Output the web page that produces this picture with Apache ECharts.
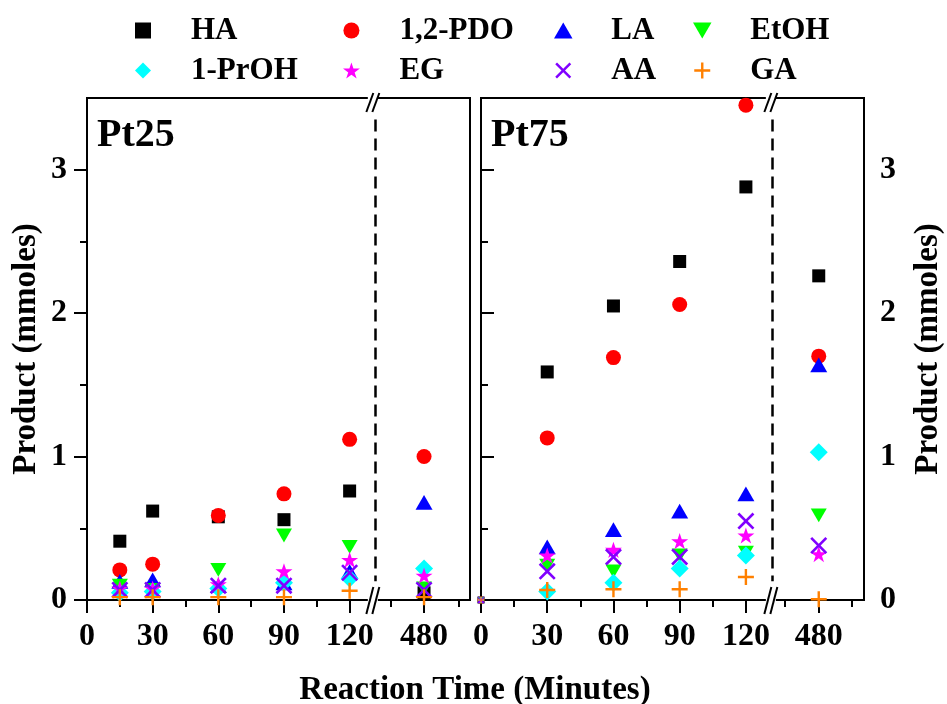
<!DOCTYPE html>
<html>
<head>
<meta charset="utf-8">
<script src="https://cdn.jsdelivr.net/npm/echarts@6/dist/echarts.min.js"></script>
<style>
  html, body { margin: 0; padding: 0; background: #fff; }
  #chart { width: 947px; height: 704px; }
</style>
</head>
<body>
<div id="chart"></div>
<script>
// Product names (legend order)
const productNames = ['HA', '1,2-PDO', 'LA', 'EtOH', '1-PrOH', 'EG', 'AA', 'GA'];

// Sampling times (minutes)
const pt25Times = [15, 30, 60, 90, 120, 480];
const pt75Times = [0, 30, 60, 90, 120, 480];

// Pt25 catalyst, product amounts (mmoles)
const pt25HA   = [0.41, 0.62, 0.58, 0.56, 0.76, 0.05];
const pt25PDO  = [0.21, 0.25, 0.59, 0.74, 1.12, 1.00];
const pt25LA   = [0.13, 0.14, 0.10, 0.12, 0.20, 0.68];
const pt25EtOH = [0.10, 0.07, 0.21, 0.45, 0.37, 0.08];
const pt25PrOH = [0.05, 0.06, 0.08, 0.12, 0.15, 0.22];
const pt25EG   = [0.08, 0.08, 0.11, 0.20, 0.28, 0.17];
const pt25AA   = [0.07, 0.07, 0.10, 0.10, 0.19, 0.07];
const pt25GA   = [0.02, 0.02, 0.02, 0.02, 0.065, 0.02];

// Pt75 catalyst, product amounts (mmoles)
const pt75HA   = [0, 1.59, 2.05, 2.36, 2.88, 2.26];
const pt75PDO  = [0, 1.13, 1.69, 2.06, 3.45, 1.70];
const pt75LA   = [0, 0.37, 0.49, 0.62, 0.74, 1.64];
const pt75EtOH = [0, 0.24, 0.20, 0.31, 0.33, 0.59];
const pt75PrOH = [0, 0.06, 0.12, 0.22, 0.31, 1.03];
const pt75EG   = [0, 0.31, 0.35, 0.41, 0.45, 0.32];
const pt75AA   = [0, 0.20, 0.30, 0.30, 0.55, 0.38];
const pt75GA   = [0, 0.07, 0.075, 0.075, 0.16, 0.005];

// Tick labels
const xTickLabels = ['0', '30', '60', '90', '120', '480'];
const yTickValues = [0, 1, 2, 3];
const yMinorTicks = [0.5, 1.5, 2.5];

// Broken time axis: 0-120 min is linear, the 480 min point sits past the break
const panels = [
  { title: 'Pt25', times: pt25Times,
    values: [pt25HA, pt25PDO, pt25LA, pt25EtOH, pt25PrOH, pt25EG, pt25AA, pt25GA],
    axisMax: 175, latePos: 154, lateMinor: [139, 170], breakPos: 130.6, dashPos: 131.5 },
  { title: 'Pt75', times: pt75Times,
    values: [pt75HA, pt75PDO, pt75LA, pt75EtOH, pt75PrOH, pt75EG, pt75AA, pt75GA],
    axisMax: 173.5, latePos: 153, lateMinor: [137.5, 168], breakPos: 131.3, dashPos: 132 }
];

const FONT = "'Liberation Serif', 'Times New Roman', serif";
const BLACK = '#000';

const symbols = [
  { symbol: 'path://M0,0H10V10H0Z', size: 13, color: '#000000' },
  { symbol: 'circle', size: 15, color: '#ff0000' },
  { symbol: 'path://M10,0L20,17.3L0,17.3Z', size: 17, color: '#0000ff' },
  { symbol: 'path://M0,0L20,0L10,17.3Z', size: 16, color: '#00ff00' },
  { symbol: 'path://M10,0L20,10L10,20L0,10Z', size: 18, color: '#00ffff' },
  { symbol: 'path://M10,0L12.4,7.2L20,7.2L13.8,11.8L16.2,19L10,14.5L3.8,19L6.2,11.8L0,7.2L7.6,7.2Z', size: 17, color: '#ff00ff' },
  { symbol: 'path://M0,2.2L2.2,0L10,7.8L17.8,0L20,2.2L12.2,10L20,17.8L17.8,20L10,12.2L2.2,20L0,17.8L7.8,10Z', size: 17, color: '#8000ff' },
  { symbol: 'path://M8.5,0H11.5V8.5H20V11.5H11.5V20H8.5V11.5H0V8.5H8.5Z', size: 16, color: '#ff8000' }
];

function axisPos(t, panel) {
  return t > 120 ? panel.latePos : t;
}

const grids = [
  { left: 87, top: 98, width: 383, height: 502 },
  { left: 481, top: 98, width: 383, height: 502 }
].map(g => Object.assign(g, { show: true, borderColor: BLACK, borderWidth: 2, backgroundColor: 'transparent' }));

const labelStyle = { color: BLACK, fontFamily: FONT, fontWeight: 'bold', fontSize: 32 };

const xAxes = [];
const yAxes = [];
panels.forEach((p, gi) => {
  const majors = [0, 30, 60, 90, 120, p.latePos];
  // main time axis
  xAxes.push({
    type: 'value', gridIndex: gi, min: 0, max: p.axisMax, position: 'bottom',
    axisLine: { show: true, lineStyle: { color: BLACK, width: 2 } },
    axisTick: { show: true, customValues: majors, length: 13, lineStyle: { color: BLACK, width: 2 } },
    axisLabel: {
      show: true, customValues: majors, margin: 21, ...labelStyle,
      formatter: v => xTickLabels[majors.indexOf(v)]
    },
    splitLine: { show: false }
  });
  // minor ticks of the time axis
  xAxes.push({
    type: 'value', gridIndex: gi, min: 0, max: p.axisMax, position: 'bottom',
    axisLine: { show: false },
    axisTick: { show: true, customValues: [15, 45, 75, 105].concat(p.lateMinor), length: 7, lineStyle: { color: BLACK, width: 2 } },
    axisLabel: { show: false },
    splitLine: { show: false }
  });
  const side = gi === 0 ? 'left' : 'right';
  yAxes.push({
    type: 'value', gridIndex: gi, min: 0, max: 3.5, position: side,
    name: 'Product (mmoles)', nameLocation: 'middle', nameRotate: 90,
    nameGap: gi === 0 ? 44 : 48,
    nameTextStyle: { ...labelStyle, fontSize: 33 },
    axisLine: { show: true, lineStyle: { color: BLACK, width: 2 } },
    axisTick: { show: true, customValues: yTickValues, length: 13, lineStyle: { color: BLACK, width: 2 } },
    axisLabel: { show: true, customValues: yTickValues, margin: gi === 0 ? 20 : 16, ...labelStyle },
    splitLine: { show: false }
  });
  yAxes.push({
    type: 'value', gridIndex: gi, min: 0, max: 3.5, position: side,
    axisLine: { show: false },
    axisTick: { show: true, customValues: yMinorTicks, length: 7, lineStyle: { color: BLACK, width: 2 } },
    axisLabel: { show: false },
    splitLine: { show: false }
  });
});

const series = [];
panels.forEach((p, gi) => {
  productNames.forEach((name, i) => {
    const s = {
      type: 'scatter', name,
      xAxisIndex: gi * 2, yAxisIndex: gi * 2,
      data: p.times.map((t, j) => [axisPos(t, p), p.values[i][j]]),
      symbol: symbols[i].symbol,
      symbolSize: v => (v[0] === 0 ? 7 : symbols[i].size),
      symbolKeepAspect: true,
      itemStyle: { color: symbols[i].color, opacity: 1 },
      emphasis: { disabled: true },
      z: 2 + i
    };
    if (i === 0) {
      s.markLine = {
        silent: true, symbol: ['none', 'none'], label: { show: false },
        lineStyle: { color: BLACK, width: 2.5, type: [12, 7] },
        data: [[{ coord: [p.dashPos, 3.35] }, { coord: [p.dashPos, 0.13] }]]
      };
    }
    series.push(s);
  });
});

// legend: four columns of two entries
const legendColumns = [
  { left: 135, data: ['HA', '1-PrOH'] },
  { left: 343, data: ['1,2-PDO', 'EG'] },
  { left: 554, data: ['LA', 'AA'] },
  { left: 693, data: ['EtOH', 'GA'] }
];
const legends = legendColumns.map(c => ({
  orient: 'vertical', left: c.left, top: 15, padding: 0,
  itemWidth: 86, itemHeight: 16, itemGap: 9,
  data: c.data, selectedMode: false,
  textStyle: { ...labelStyle, fontSize: 31 }
}));

const chart = echarts.init(document.getElementById('chart'), null, { renderer: 'canvas' });
chart.setOption({
  animation: false,
  backgroundColor: '#fff',
  grid: grids,
  xAxis: xAxes,
  yAxis: yAxes,
  legend: legends,
  series
});

// panel titles, shared axis title and break marks
const graphics = [];
panels.forEach((p, gi) => {
  const opt = { xAxisIndex: gi * 2, yAxisIndex: gi * 2 };
  const topLeft = chart.convertToPixel(opt, [0, 3.5]);
  graphics.push({
    type: 'text', z: 100, left: topLeft[0] + 10, top: topLeft[1] + 18,
    style: { text: p.title, fill: BLACK, font: 'bold 40px ' + FONT }
  });
  [0, 3.5].forEach(yv => {
    const pt = chart.convertToPixel(opt, [p.breakPos, yv]);
    const bottom = yv === 0;
    const up = bottom ? 13 : 5;
    const down = 14;
    graphics.push({
      type: 'rect', z: 100, silent: true,
      shape: { x: pt[0] - 5, y: pt[1] - 2, width: 10, height: 4 },
      style: { fill: '#fff' }
    });
    [-3, 3].forEach(dx => {
      graphics.push({
        type: 'line', z: 101, silent: true,
        shape: { x1: pt[0] + dx - 3.5, y1: pt[1] + down, x2: pt[0] + dx + 3.5, y2: pt[1] - up },
        style: { stroke: BLACK, lineWidth: 2 }
      });
    });
  });
});
graphics.push({
  type: 'text', z: 100, x: 475, y: 690,
  style: { text: 'Reaction Time (Minutes)', fill: BLACK, font: 'bold 33px ' + FONT, align: 'center', verticalAlign: 'middle' }
});
chart.setOption({ graphic: graphics });
</script>
</body>
</html>
